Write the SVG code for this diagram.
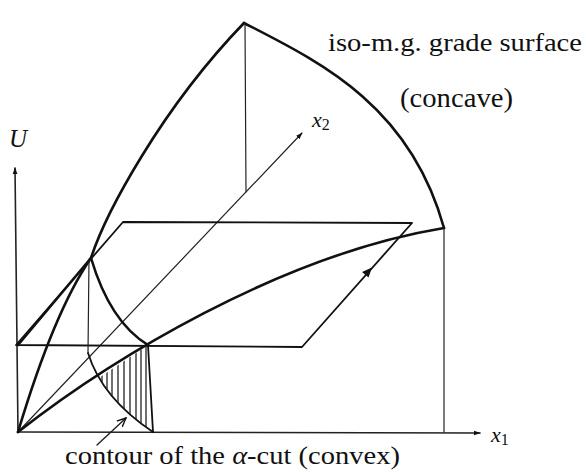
<svg xmlns="http://www.w3.org/2000/svg" width="586" height="472" viewBox="0 0 586 472">
<style>
.thick{fill:none;stroke:#111;stroke-width:2.6;stroke-linejoin:round;stroke-linecap:round}
.med{fill:none;stroke:#111;stroke-width:1.8;stroke-linejoin:round;stroke-linecap:round}
.thin{fill:none;stroke:#222;stroke-width:1.2;stroke-linecap:round}
.hatch{fill:none;stroke:#222;stroke-width:1.3}
text{font-family:"Liberation Serif","Times New Roman",serif;fill:#111}
.it{font-style:italic}
</style>
<defs>
<marker id="ah" viewBox="0 0 10 10" refX="9" refY="5" markerWidth="7" markerHeight="7" orient="auto" markerUnits="userSpaceOnUse">
<path d="M0,1.5 L10,5 L0,8.5 Z" fill="#111"/>
</marker>
<marker id="open" viewBox="0 0 10 10" refX="9" refY="5" markerWidth="10" markerHeight="10" orient="auto" markerUnits="userSpaceOnUse">
<path d="M0,1 L9,5 L0,9" fill="none" stroke="#111" stroke-width="1.4"/>
</marker>
<clipPath id="cBelow"><path d="M18,432 L148,345 L165,345 L165,440 L18,440 Z"/></clipPath>
<clipPath id="cRight"><path d="M88,353 Q102,398 153,432 L165,432 L165,340 L88,340 Z"/></clipPath>
</defs>
<g id="axes">
<line class="thin" x1="18" y1="432" x2="15" y2="168" marker-end="url(#ah)" style="stroke-width:1.6"/>
<line class="thin" x1="18" y1="432" x2="480" y2="433" marker-end="url(#ah)" style="stroke-width:1.6"/>
<line class="thin" x1="18" y1="432" x2="302" y2="133" marker-end="url(#ah)"/>
</g>
<g id="plane">
<path class="med" d="M16,345 L302,347 L412,223 L123,222 Z"/>
<line class="thick" x1="18" y1="345" x2="91" y2="258"/>
<path d="M372,267.5 L368.5,277.5 L362,272 Z" fill="#111"/>
</g>
<g id="surface">
<path class="thick" d="M18,432 C36,372 62,300 91,258 C105,215 160,110 244,23"/>
<path class="thick" d="M244,23 C320,62 410,105 444,228"/>
<path class="thick" d="M18,432 C110,360 280,255 444,228"/>
<path class="thick" d="M91,258 Q110,322 148,345"/>
<line class="thin" x1="245" y1="23" x2="246" y2="192"/>
<line class="thin" x1="444" y1="228" x2="444" y2="432"/>
</g>
<g id="alpha-cut">
<line class="thin" x1="89" y1="259" x2="88" y2="353"/>
<path class="med" d="M88,353 Q102,398 153,432"/>
<line class="med" x1="148" y1="345" x2="153" y2="432"/>
<g clip-path="url(#cBelow)"><g clip-path="url(#cRight)">
<path class="hatch" d="M102,340V440M107,340V440M112,340V440M118,340V440M124,340V440M130,340V440M136,340V440M141,340V440M146,340V440"/>
</g></g>
<line class="thin" x1="97" y1="445" x2="126" y2="418" marker-end="url(#open)" style="stroke-width:1.4"/>
</g>
<g id="labels">
<text x="328" y="51" font-size="26" textLength="254" lengthAdjust="spacingAndGlyphs">iso-m.g. grade surface</text>
<text x="400" y="107" font-size="27" textLength="113" lengthAdjust="spacingAndGlyphs">(concave)</text>
<text x="9" y="147" font-size="25" class="it">U</text>
<text x="312" y="127" font-size="22" class="it">x<tspan dy="3" font-size="16" font-style="normal">2</tspan></text>
<text x="491" y="442" font-size="22" class="it">x<tspan dy="3" font-size="16" font-style="normal">1</tspan></text>
<text x="65" y="464" font-size="25" textLength="335" lengthAdjust="spacingAndGlyphs">contour of the <tspan class="it">α</tspan>-cut (convex)</text>
</g>
</svg>
